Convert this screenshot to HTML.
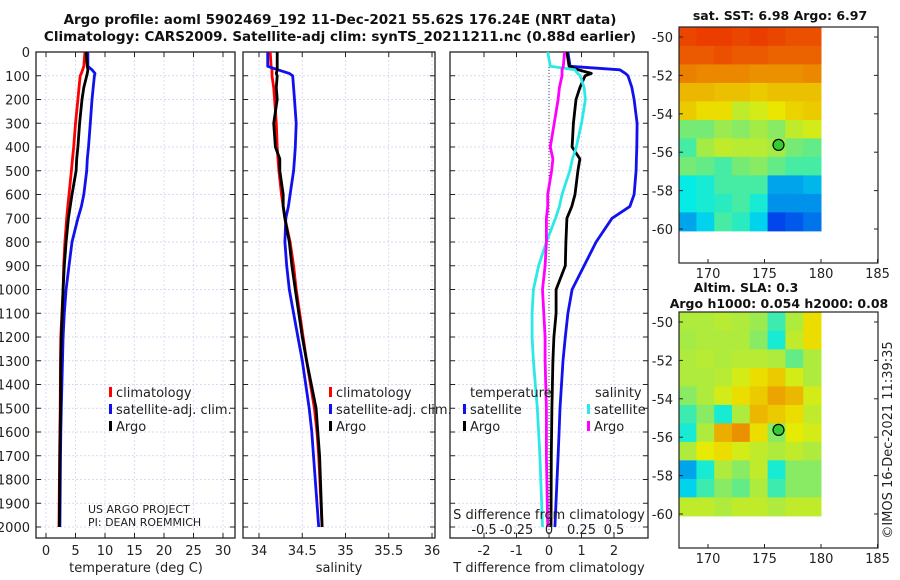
<!DOCTYPE html>
<html><head><meta charset="utf-8">
<style>
html,body{margin:0;padding:0;background:#fff;}
svg{display:block;font-family:"DejaVu Sans","Liberation Sans",sans-serif;}
</style></head>
<body>
<svg id="c" width="900" height="580" viewBox="0 0 900 580"></svg>
<script>
// ---- data ----
const depths = [0,60,75,90,100,150,200,300,400,450,500,600,650,700,800,900,1000,1100,1200,1300,1500,1600,1700,2000];
const tempClim = [6.6,6.4,6.2,6.0,5.8,5.6,5.4,5.0,4.7,4.5,4.3,3.9,3.7,3.5,3.2,3.0,2.9,2.7,2.5,2.45,2.4,2.35,2.3,2.2];
const tempArgo = [6.8,7.0,7.1,7.0,6.9,6.4,6.1,5.7,5.4,5.2,5.1,4.4,4.1,3.8,3.4,3.1,2.9,2.75,2.6,2.5,2.45,2.4,2.35,2.25];
const tempSat = [7.1,7.1,7.8,8.3,8.2,8.0,7.8,7.5,7.2,7.0,6.9,6.4,6.0,5.4,4.4,3.9,3.4,3.1,2.9,2.8,2.6,2.5,2.45,2.35];
const salClim = [34.13,34.14,34.15,34.15,34.15,34.17,34.18,34.2,34.21,34.22,34.23,34.26,34.28,34.3,34.36,34.4,34.43,34.47,34.51,34.55,34.64,34.67,34.69,34.73];
const salArgo = [34.21,34.21,34.21,34.2,34.21,34.2,34.21,34.17,34.19,34.24,34.24,34.28,34.28,34.3,34.35,34.38,34.42,34.46,34.5,34.55,34.66,34.68,34.7,34.73];
const salSat = [34.1,34.1,34.22,34.35,34.39,34.4,34.41,34.43,34.42,34.41,34.4,34.36,34.34,34.31,34.3,34.32,34.35,34.4,34.45,34.5,34.58,34.61,34.63,34.69];
const dTsat = [0.58,0.65,2.18,2.35,2.43,2.55,2.62,2.71,2.7,2.69,2.68,2.62,2.49,1.94,1.45,1.08,0.71,0.58,0.5,0.43,0.34,0.31,0.28,0.18];
const dTargo = [0.55,0.62,0.9,1.3,1.11,0.95,0.83,0.75,0.71,0.95,0.89,0.8,0.7,0.55,0.52,0.5,0.22,0.22,0.15,0.12,0.09,0.08,0.07,0.06];
const dSsat = [-0.01,0.01,0.2,0.22,0.24,0.27,0.28,0.25,0.21,0.18,0.16,0.1,0.08,0.05,-0.02,-0.08,-0.12,-0.13,-0.13,-0.12,-0.09,-0.08,-0.07,-0.05];
const dSargo = [0.12,0.11,0.1,0.1,0.1,0.08,0.07,0.04,0.01,0.03,0.02,-0.01,-0.01,-0.02,-0.02,-0.03,-0.05,-0.04,-0.03,-0.03,-0.02,-0.02,-0.02,-0.01];
const depthTicks = [0,100,200,300,400,500,600,700,800,900,1000,1100,1200,1300,1400,1500,1600,1700,1800,1900,2000];
const tTicks = [0,5,10,15,20,25,30];
const sTicks = [34,34.5,35,35.5,36];
const dtTicks = [-2,-1,0,1,2];
const dsTicks = [-0.5,-0.25,0,0.25,0.5];
const lonTicks = [170,175,180,185];
const latTicks = [-50,-52,-54,-56,-58,-60];
const sstGrid = [
[.8,.81,.81,.8,.81,.8,.79,.79],
[.78,.78,.79,.78,.78,.77,.77,.77],
[.74,.73,.73,.73,.72,.72,.72,.73],
[.68,.68,.67,.67,.66,.67,.67,.67],
[.66,.64,.64,.58,.6,.63,.65,.66],
[.5,.5,.54,.52,.55,.52,.58,.6],
[.45,.55,.58,.57,.57,.55,.5,.48],
[.5,.48,.45,.5,.52,.48,.45,.45],
[.38,.4,.45,.45,.45,.3,.3,.32],
[.38,.4,.42,.45,.4,.28,.28,.28],
[.3,.35,.45,.42,.35,.2,.22,.25]];
const slaGrid = [
[.56,.56,.57,.56,.54,.44,.56,.64],
[.55,.56,.56,.56,.52,.4,.58,.64],
[.56,.57,.56,.57,.57,.56,.48,.56],
[.56,.56,.57,.6,.64,.66,.6,.56],
[.52,.56,.6,.64,.66,.7,.68,.6],
[.44,.52,.4,.56,.68,.66,.64,.58],
[.4,.56,.69,.72,.64,.52,.62,.6],
[.56,.62,.64,.6,.58,.56,.58,.56],
[.3,.4,.56,.52,.58,.4,.52,.52],
[.35,.44,.52,.48,.56,.44,.52,.52],
[.58,.58,.56,.58,.58,.56,.58,.58]];
const argoLon = 176.24, argoLat = -55.62;

// ---- helpers ----
const svg = document.getElementById('c');
const NS = 'http://www.w3.org/2000/svg';
function el(tag, attrs, parent){const e=document.createElementNS(NS,tag);for(const k in attrs)e.setAttribute(k,attrs[k]);(parent||svg).appendChild(e);return e;}
function txt(x,y,s,size,anchor,extra){const t=el('text',Object.assign({x:x,y:y,'font-size':size,'text-anchor':anchor||'middle',fill:'#222'},extra||{}));t.textContent=s;return t;}
const yD = d => 52 + d*0.2375;
const PT = {l:36,r:235,x:v=>46+v*5.9};
const PS = {l:243,r:435,x:v=>259+(v-34)*86.5};
const PD = {l:450,r:648,x:v=>549+v*32.5, xs:v=>549+v*130};

function panel(P, xt, xf, name){
  const g=el('g',{});
  
  
  depthTicks.forEach(d=>el('line',{x1:P.l,x2:P.r,y1:yD(d),y2:yD(d),stroke:'#c8d0ee','stroke-width':0.7,'stroke-dasharray':'2,2'},g));
  xt.forEach(v=>el('line',{x1:xf(v),x2:xf(v),y1:52,y2:538,stroke:'#c8d0ee','stroke-width':0.7,'stroke-dasharray':'2,2'},g));
  depthTicks.forEach(d=>{el('line',{x1:P.l,x2:P.l+5,y1:yD(d),y2:yD(d),stroke:'#222'},g);el('line',{x1:P.r-5,x2:P.r,y1:yD(d),y2:yD(d),stroke:'#222'},g);});
  xt.forEach(v=>{el('line',{x1:xf(v),x2:xf(v),y1:538,y2:533,stroke:'#222'},g);el('line',{x1:xf(v),x2:xf(v),y1:52,y2:57,stroke:'#222'},g);});
  el('rect',{x:P.l,y:52,width:P.r-P.l,height:486,fill:'none',stroke:'#222','stroke-width':1.3},g);
  return g;
}
function line(g,xs,xf,color,name){
  const pts=depths.map((d,i)=>xf(xs[i]).toFixed(1)+','+yD(d).toFixed(1)).join(' ');
  const p=el('polyline',{points:pts,fill:'none',stroke:color,'stroke-width':2.8,'stroke-linejoin':'round'},g);
  
  
}
function legendEntry(x,y,color,label,name){
  const g=el('g',{});
  
  
  el('rect',{x:x-2,y:y-10,width:3,height:10,fill:color},g);
  const t=txt(x+5,y,label,13,'start');g.appendChild(t);
}

// titles
const t1=txt(340,24,'Argo profile: aoml 5902469_192 11-Dec-2021 55.62S 176.24E (NRT data)',13.5,'middle',{'font-weight':'bold',fill:'#111'});

const t2=txt(340,41,'Climatology: CARS2009. Satellite-adj clim: synTS_20211211.nc (0.88d earlier)',13.5,'middle',{'font-weight':'bold',fill:'#111'});


// panel 1
const g1=panel(PT,tTicks,PT.x,'temperature-panel');
depthTicks.forEach(d=>{const t=txt(30,yD(d)+5,String(d),13,'end');});
tTicks.forEach(v=>txt(PT.x(v),555,String(v),13));
txt(136,572,'temperature (deg C)',13);
line(g1,tempClim,PT.x,'#f00','temp-climatology-line');
line(g1,tempSat,PT.x,'#11e','temp-satellite-line');
line(g1,tempArgo,PT.x,'#000','temp-argo-line');
legendEntry(111,397,'#f00','climatology','legend-climatology-t');
legendEntry(111,414,'#11e','satellite-adj. clim.','legend-satellite-t');
legendEntry(111,431,'#000','Argo','legend-argo-t');
txt(88,513,'US ARGO PROJECT',11,'start');
txt(88,526,'PI: DEAN ROEMMICH',11,'start');

// panel 2
const g2=panel(PS,sTicks,PS.x,'salinity-panel');
sTicks.forEach(v=>txt(PS.x(v),555,String(v),13));
txt(339,572,'salinity',13);
line(g2,salClim,PS.x,'#f00','sal-climatology-line');
line(g2,salSat,PS.x,'#11e','sal-satellite-line');
line(g2,salArgo,PS.x,'#000','sal-argo-line');
legendEntry(331,397,'#f00','climatology','legend-climatology-s');
legendEntry(331,414,'#11e','satellite-adj. clim.','legend-satellite-s');
legendEntry(331,431,'#000','Argo','legend-argo-s');

// panel 3
const g3=panel(PD,dtTicks,PD.x,'difference-panel');
el('line',{x1:549,x2:549,y1:52,y2:538,stroke:'#444','stroke-width':1,'stroke-dasharray':'1,2'},g3);
dtTicks.forEach(v=>txt(PD.x(v),555,String(v),13));
txt(549,572,'T difference from climatology',13);
line(g3,dTsat,PD.x,'#11e','tdiff-satellite-line');
line(g3,dTargo,PD.x,'#000','tdiff-argo-line');
line(g3,dSsat,PD.xs,'#2ee8e8','sdiff-satellite-line');
line(g3,dSargo,PD.xs,'#f0f','sdiff-argo-line');
txt(470,397,'temperature',13,'start');
legendEntry(465,414,'#11e','satellite','legend-tdiff-satellite');
legendEntry(465,431,'#000','Argo','legend-tdiff-argo');
txt(595,397,'salinity',13,'start');
legendEntry(589,414,'#2ee8e8','satellite','legend-sdiff-satellite');
legendEntry(589,431,'#f0f','Argo','legend-sdiff-argo');
txt(549,519,'S difference from climatology',13);
dsTicks.forEach(v=>txt(PD.xs(v),534,String(v),13));

// maps
function jet(v){
  const r=Math.max(0,Math.min(1,1.5-Math.abs(4*v-3)));
  const g=Math.max(0,Math.min(1,1.5-Math.abs(4*v-2)));
  const b=Math.max(0,Math.min(1,1.5-Math.abs(4*v-1)));
  const k=0.92;
  return 'rgb('+Math.round(r*255*k)+','+Math.round(g*255*k)+','+Math.round(b*255*k)+')';
}
function map(grid,top,name){
  const g=el('g',{});
  
  
  const lonX=v=>708+(v-170)*11.3;
  const latY=v=>top+10+(-50-v)*19.2;
  const lon0=167.4, lon1=180, lat0=-49.5, lat1=-60.1;
  const nr=grid.length, nc=grid[0].length;
  const cw=(lonX(lon1)-lonX(lon0))/nc, ch=(latY(lat1)-latY(lat0))/nr;
  grid.forEach((row,i)=>row.forEach((v,j)=>{
    const c=el('rect',{x:(lonX(lon0)+j*cw).toFixed(1),y:(latY(lat0)+i*ch).toFixed(1),width:(cw+0.5).toFixed(1),height:(ch+0.5).toFixed(1),fill:jet(v)},g);
    
    
  }));
  const dot=el('circle',{cx:lonX(argoLon),cy:latY(argoLat),r:5.5,fill:'#3c3',stroke:'#000','stroke-width':1.2},g);
  
  
  el('rect',{x:679,y:top,width:199,height:236,fill:'none',stroke:'#222','stroke-width':1.2},g);
  latTicks.forEach(v=>{el('line',{x1:679,x2:683,y1:latY(v),y2:latY(v),stroke:'#222'},g);el('line',{x1:874,x2:878,y1:latY(v),y2:latY(v),stroke:'#222'},g);txt(673,latY(v)+5,String(v),13,'end');});
  lonTicks.forEach(v=>{el('line',{x1:lonX(v),x2:lonX(v),y1:top+236,y2:top+232,stroke:'#222'},g);txt(lonX(v),top+251,String(v),13);});
}
map(sstGrid,27,'sst-map');
txt(780,20,'sat. SST: 6.98 Argo: 6.97',12.5,'middle',{'font-weight':'bold',fill:'#111'});
map(slaGrid,312,'sla-map');
txt(746,292,'Altim. SLA: 0.3',12.5,'middle',{'font-weight':'bold',fill:'#111'});
txt(779,308,'Argo h1000: 0.054 h2000: 0.08',12.5,'middle',{'font-weight':'bold',fill:'#111'});
const cr=txt(0,0,'©IMOS 16-Dec-2021 11:39:35',13,'middle',{transform:'translate(892,440) rotate(-90)'});

</script>
</body></html>
